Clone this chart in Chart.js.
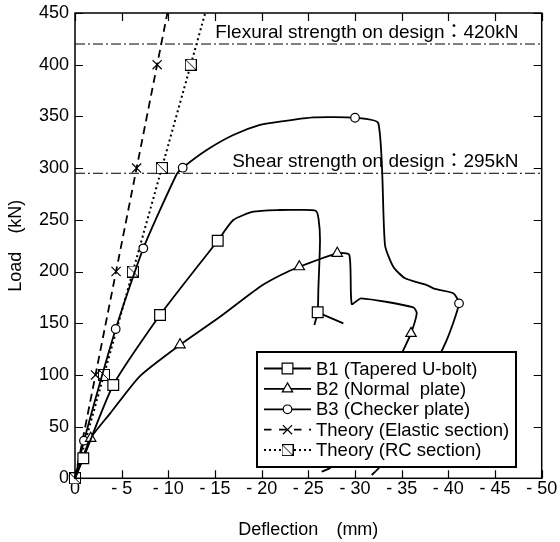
<!DOCTYPE html>
<html>
<head>
<meta charset="utf-8">
<script src="https://cdn.jsdelivr.net/npm/chart.js@4.4.1/dist/chart.umd.min.js"></script>
<style>
  html, body { margin: 0; padding: 0; background: #fff; }
</style>
</head>
<body>
<canvas id="myChart" width="560" height="542"></canvas>
<script>
// deflection (mm, plotted as positive) and load (kN)
const b1Defl = [0, 0.89, 4.10, 9.11, 15.29, 16.96, 19.1, 21.96, 24.0, 25.79, 26.09, 26.25, 26.07, 26.0, 25.64, null, 26.0, 28.75];
const b1Load = [0, 19.3, 90.2, 157.9, 229.8, 249.8, 257.8, 259.5, 259.6, 258.8, 251.2, 230.5, 182.1, 160.5, 148.3, null, 160.5, 149.9];
const b1Marks = [1, 2, 3, 4, 13];

const b2Defl = [0, 1.68, 3.75, 6.96, 11.25, 15.54, 19.82, 22.0, 24.03, 28.1, 29.39, 29.65, 30.64, 36.25, 36.61, 36.0, 35.18, 33.5, 31.0, 28.5, 27.32, 26.43];
const b2Load = [0, 38.7, 62.6, 98.9, 129.1, 156.3, 185.3, 196.4, 204.6, 217.6, 216.0, 168.6, 174.1, 165.4, 159.6, 140.2, 124.1, 90, 50, 20, 10.0, 6.4];
const b2Marks = [1, 4, 8, 9, 15];

const b3Defl = [0, 0.96, 4.36, 7.32, 10.9, 11.54, 14.11, 16.96, 19.82, 21.96, 25.53, 30.0, 32.5, 33.21, 34.1, 35.36, 37.68, 38.57, 40.53, 41.14, 39.83, 37.5, 35.0, 33.0, 32.46, 31.79];
const b3Load = [0, 36.4, 144.4, 222.4, 294.3, 300.4, 317.5, 332.0, 341.7, 344.9, 349.1, 348.7, 343.3, 225.6, 204.6, 193.4, 186.9, 183.1, 178.9, 169.2, 133.8, 90, 45, 15, 9.0, 3.2];
const b3Marks = [1, 2, 3, 5, 11, 19];

const elasticDefl = [0, 2.2, 4.4, 6.6, 8.8, 9.9];
const elasticLoad = [0, 100, 200, 300, 400, 450];
const elasticMarks = [1, 2, 3, 4];

const rcDefl = [0, 3.1, 6.2, 9.3, 12.4, 13.95];
const rcLoad = [0, 100, 200, 300, 400, 450];
const rcMarks = [0, 1, 2, 3, 4];

const flexuralLoad = 420;
const shearLoad = 295;
const flexuralText = 'Flexural strength on design：420kN';
const shearText = 'Shear strength on design：295kN';

const seriesNames = [
  'B1 (Tapered U-bolt)',
  'B2 (Normal  plate)',
  'B3 (Checker plate)',
  'Theory (Elastic section)',
  'Theory (RC section)'
];

const FONT = '"Liberation Sans", Arial, "Noto Sans CJK JP", sans-serif';
Chart.defaults.font.family = FONT;
Chart.defaults.font.size = 18;
Chart.defaults.color = '#000';

function pts(xs, ys) {
  return xs.map((x, i) => ({ x: x, y: ys[i] }));
}

// square with a diagonal, used for the RC theory points
function boxSlash(size) {
  const c = document.createElement('canvas');
  c.width = size + 1;
  c.height = size + 1;
  const g = c.getContext('2d');
  g.fillStyle = '#fff';
  g.fillRect(0, 0, size, size);
  g.strokeStyle = '#000';
  g.lineWidth = 1;
  g.strokeRect(0.5, 0.5, size, size);
  g.beginPath();
  g.moveTo(0.5, 0.5);
  g.lineTo(size + 0.5, size + 0.5);
  g.stroke();
  return c;
}
const rcMarker = boxSlash(11);

function series(xs, ys, marks, style, radius, dash, width) {
  return {
    data: pts(xs, ys),
    showLine: true,
    borderColor: '#000',
    borderWidth: width,
    borderDash: dash,
    tension: 0.2,
    clip: false,
    pointStyle: style,
    pointRadius: ctx => marks.includes(ctx.dataIndex) ? radius : 0,
    pointHoverRadius: 0,
    pointBackgroundColor: '#fff',
    pointBorderColor: '#000',
    pointBorderWidth: 1.2
  };
}

function refLine(load) {
  return {
    data: [{ x: 0, y: load }, { x: 50, y: load }],
    showLine: true,
    borderColor: '#000',
    borderWidth: 1,
    borderDash: [10, 3, 2, 3],
    pointRadius: 0,
    pointHoverRadius: 0
  };
}

const legendStyles = [
  { style: 'rect', radius: 7.6, dash: [] },
  { style: 'triangle', radius: 6, dash: [] },
  { style: 'circle', radius: 4.3, dash: [] },
  { style: 'crossRot', radius: 6.5, dash: [7.5, 7.5] },
  { style: rcMarker, radius: 5, dash: [2, 3] }
];

// frame with inward ticks on all four sides, plus the two strength labels
const framePlugin = {
  id: 'frame',
  afterDraw(chart) {
    const { ctx, chartArea: a, scales } = chart;
    ctx.save();
    ctx.strokeStyle = '#000';
    ctx.lineWidth = 1.2;
    ctx.beginPath();
    scales.x.ticks.forEach(t => {
      const px = Math.round(scales.x.getPixelForValue(t.value)) + 0.5;
      ctx.moveTo(px, a.bottom); ctx.lineTo(px, a.bottom - 8);
      ctx.moveTo(px, a.top); ctx.lineTo(px, a.top + 8);
    });
    scales.y.ticks.forEach(t => {
      const py = Math.round(scales.y.getPixelForValue(t.value)) + 0.5;
      ctx.moveTo(a.left, py); ctx.lineTo(a.left + 8, py);
      ctx.moveTo(a.right, py); ctx.lineTo(a.right - 8, py);
    });
    ctx.stroke();
    ctx.lineWidth = 1.5;
    ctx.strokeRect(a.left, a.top, a.right - a.left, a.bottom - a.top);

    ctx.font = '19px ' + FONT;
    ctx.fillStyle = '#000';
    ctx.textAlign = 'right';
    ctx.textBaseline = 'middle';
    const tx = scales.x.getPixelForValue(47.5);
    ctx.fillText(flexuralText, tx, scales.y.getPixelForValue(431));
    ctx.fillText(shearText, tx, scales.y.getPixelForValue(306));
    ctx.restore();
  }
};

// legend box drawn inside the plot, line + marker samples
const legendPlugin = {
  id: 'boxLegend',
  afterDatasetsDraw(chart) {
    const { ctx } = chart;
    const bx = 257, by = 352, bw = 259, bh = 115;
    ctx.save();
    ctx.fillStyle = '#fff';
    ctx.fillRect(bx, by, bw, bh);
    ctx.strokeStyle = '#000';
    ctx.lineWidth = 2;
    ctx.strokeRect(bx, by, bw, bh);
    ctx.font = '18.5px ' + FONT;
    ctx.textAlign = 'left';
    ctx.textBaseline = 'middle';
    seriesNames.forEach((name, i) => {
      const y = by + 16.5 + i * 20.4;
      const s = legendStyles[i];
      ctx.lineWidth = i === 4 ? 2 : 1.8;
      ctx.setLineDash(s.dash);
      ctx.beginPath();
      ctx.moveTo(bx + 7, y);
      ctx.lineTo(bx + 54, y);
      ctx.stroke();
      ctx.setLineDash([]);
      ctx.fillStyle = '#fff';
      ctx.lineWidth = 1.2;
      Chart.helpers.drawPoint(ctx, { pointStyle: s.style, radius: s.radius, rotation: 0, borderWidth: 1.2 }, bx + 30.5, y);
      ctx.fillStyle = '#000';
      ctx.fillText(name, bx + 59, y + 1);
    });
    ctx.restore();
  }
};

const config = {
  type: 'scatter',
  data: {
    datasets: [
      refLine(flexuralLoad),
      refLine(shearLoad),
      series(b1Defl, b1Load, b1Marks, 'rect', 7.6, [], 1.8),
      series(b2Defl, b2Load, b2Marks, 'triangle', 6, [], 1.8),
      series(b3Defl, b3Load, b3Marks, 'circle', 4.3, [], 1.8),
      series(elasticDefl, elasticLoad, elasticMarks, 'crossRot', 6.5, [8, 5], 1.8),
      series(rcDefl, rcLoad, rcMarks, rcMarker, 5, [2, 3], 2)
    ]
  },
  options: {
    responsive: false,
    animation: false,
    events: [],
    layout: { padding: { top: 13, right: 18.3, bottom: 0, left: 0 } },
    plugins: {
      legend: { display: false },
      tooltip: { enabled: false }
    },
    scales: {
      x: {
        type: 'linear',
        min: 0,
        max: 50,
        afterFit(scale) { scale.height = 63.7; },
        grid: { display: false, drawTicks: false },
        border: { display: false },
        ticks: {
          stepSize: 5,
          autoSkip: false,
          maxRotation: 0,
          padding: 0,
          callback: v => v === 0 ? '0' : '- ' + v
        },
        title: {
          display: true,
          text: 'Deflection　(mm)',
          font: { size: 18 },
          padding: { top: 0, bottom: 1 }
        }
      },
      y: {
        min: 0,
        max: 450,
        afterFit(scale) { scale.width = 75; },
        grid: { display: false, drawTicks: false },
        border: { display: false },
        ticks: { stepSize: 50, padding: 6, font: { size: 18, lineHeight: 0.7 } },
        title: {
          display: true,
          text: 'Load　(kN)',
          font: { size: 18 },
          padding: { top: 5, bottom: 0 }
        }
      }
    }
  },
  plugins: [framePlugin, legendPlugin]
};

const myChart = new Chart(document.getElementById('myChart'), config);
</script>
</body>
</html>
